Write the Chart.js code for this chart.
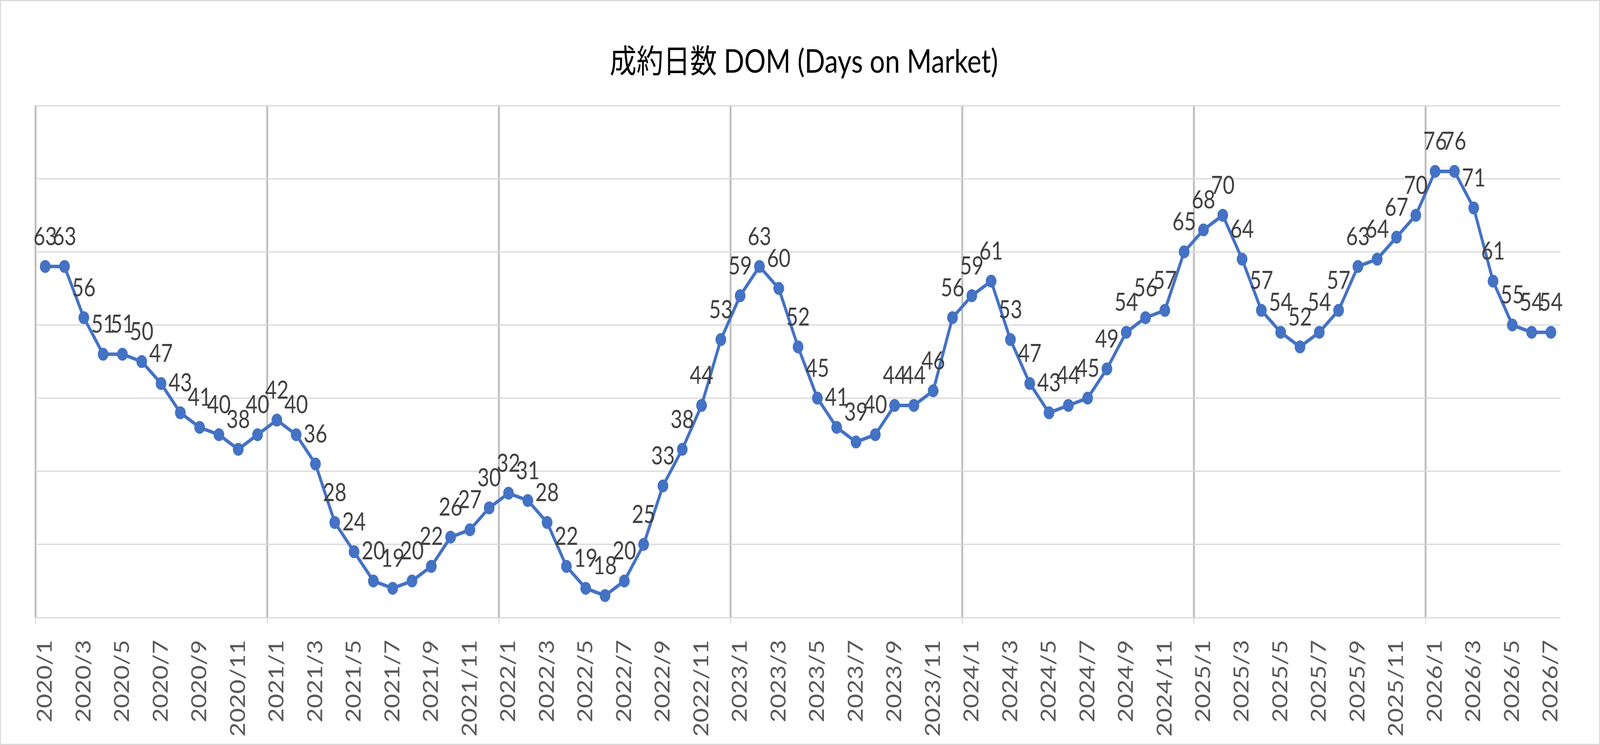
<!DOCTYPE html>
<html>
<head>
<meta charset="utf-8">
<title>成約日数 DOM</title>
<script src="https://cdn.jsdelivr.net/npm/chart.js@4.4.1/dist/chart.umd.min.js"></script>
<style>
  html, body { margin: 0; padding: 0; background: #fff; overflow: hidden; }
  /* drawn at 4952x1906, shown to fill whatever window we get */
  #chart { display: block; width: 100vw !important; height: 100vh !important; }
</style>
</head>
<body>
<canvas id="chart" width="4952" height="1906"></canvas>
<script>
// Month categories (2020/1 .. 2026/7)
const months = [
  '2020/1','2020/2','2020/3','2020/4','2020/5','2020/6','2020/7','2020/8','2020/9','2020/10','2020/11','2020/12',
  '2021/1','2021/2','2021/3','2021/4','2021/5','2021/6','2021/7','2021/8','2021/9','2021/10','2021/11','2021/12',
  '2022/1','2022/2','2022/3','2022/4','2022/5','2022/6','2022/7','2022/8','2022/9','2022/10','2022/11','2022/12',
  '2023/1','2023/2','2023/3','2023/4','2023/5','2023/6','2023/7','2023/8','2023/9','2023/10','2023/11','2023/12',
  '2024/1','2024/2','2024/3','2024/4','2024/5','2024/6','2024/7','2024/8','2024/9','2024/10','2024/11','2024/12',
  '2025/1','2025/2','2025/3','2025/4','2025/5','2025/6','2025/7','2025/8','2025/9','2025/10','2025/11','2025/12',
  '2026/1','2026/2','2026/3','2026/4','2026/5','2026/6','2026/7'
];

// Days on market, one value per month
const dom = [
  63, 63, 56, 51, 51, 50, 47, 43, 41, 40, 38, 40,
  42, 40, 36, 28, 24, 20, 19, 20, 22, 26, 27, 30,
  32, 31, 28, 22, 19, 18, 20, 25, 33, 38, 44, 53,
  59, 63, 60, 52, 45, 41, 39, 40, 44, 44, 46, 56,
  59, 61, 53, 47, 43, 44, 45, 49, 54, 56, 57, 65,
  68, 70, 64, 57, 54, 52, 54, 57, 63, 64, 67, 70,
  76, 76, 71, 61, 55, 54, 54
];

const yMin = 15;
const yMax = 85;
const yStep = 10;

const titleText = '成約日数 DOM (Days on Market)';
const FONT = "Lato, 'Noto Sans CJK JP', sans-serif";

// white background, outer frame and title
const frame = {
  id: 'frame',
  beforeDraw(chart) {
    const ctx = chart.ctx;
    ctx.save();
    ctx.fillStyle = '#fff';
    ctx.fillRect(0, 0, chart.width, chart.height);
    ctx.restore();
  },
  afterDraw(chart) {
    const ctx = chart.ctx;
    ctx.save();
    ctx.strokeStyle = '#d9d9d9';
    ctx.lineWidth = 3;
    ctx.strokeRect(1.5, 1.5, chart.width - 3, chart.height - 3);
    ctx.fillStyle = '#000';
    ctx.font = '83px ' + FONT;
    ctx.textAlign = 'center';
    ctx.textBaseline = 'alphabetic';
    ctx.fillText(titleText, 2488, 186);
    ctx.restore();
  }
};

// value labels above each point
const pointLabels = {
  id: 'pointLabels',
  afterDatasetsDraw(chart) {
    const ctx = chart.ctx;
    const meta = chart.getDatasetMeta(0);
    ctx.save();
    ctx.font = '63px ' + FONT;
    ctx.fillStyle = '#404040';
    ctx.textAlign = 'center';
    ctx.textBaseline = 'alphabetic';
    meta.data.forEach((pt, i) => {
      ctx.fillText(String(dom[i]), pt.x, pt.y - 55);
    });
    ctx.restore();
  }
};

new Chart(document.getElementById('chart'), {
  type: 'line',
  data: {
    labels: months,
    datasets: [{
      data: dom,
      borderColor: '#4472c4',
      backgroundColor: '#4472c4',
      borderWidth: 9,
      pointRadius: 15.5,
      pointBorderWidth: 2,
      pointBackgroundColor: '#4472c4',
      pointBorderColor: '#4472c4',
      tension: 0
    }]
  },
  options: {
    responsive: false,
    animation: false,
    devicePixelRatio: 1,
    layout: { padding: { left: 110, right: 122, top: 270, bottom: 0 } },
    plugins: {
      legend: { display: false },
      title: { display: false },
      tooltip: { enabled: false }
    },
    scales: {
      x: {
        offset: true,
        border: { display: false },
        grid: {
          offset: true,
          lineWidth: 6,
          color: c => (c.index % 12 === 0 ? '#bfbfbf' : 'rgba(0,0,0,0)'),
          tickColor: c => (c.index % 12 === 0 ? '#d9d9d9' : 'rgba(0,0,0,0)'),
          tickWidth: 3,
          tickLength: 17
        },
        ticks: {
          autoSkip: false,
          minRotation: 90,
          maxRotation: 90,
          padding: 40,
          color: '#595959',
          font: { family: FONT, size: 63 },
          callback: (v, i) => (i % 2 === 0 ? months[i] : '')
        },
        afterFit: s => { s.height = 326; s.paddingLeft = 0; s.paddingRight = 0; }
      },
      y: {
        min: yMin,
        max: yMax,
        border: { display: false },
        grid: { color: '#d9d9d9', lineWidth: 3, drawTicks: false },
        ticks: { stepSize: yStep, display: false },
        afterFit: s => { s.width = 0; }
      }
    }
  },
  plugins: [frame, pointLabels]
});
</script>
</body>
</html>
